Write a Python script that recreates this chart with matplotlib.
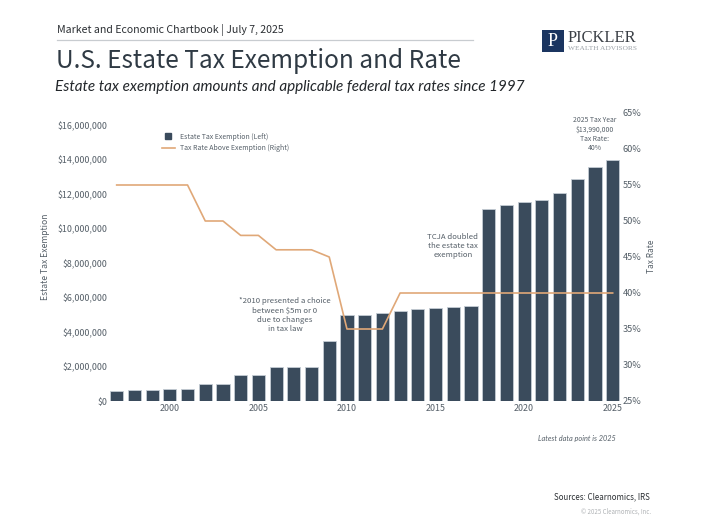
import matplotlib
matplotlib.use("Agg")
import matplotlib.pyplot as plt
from matplotlib.lines import Line2D
from matplotlib.patches import Rectangle
import matplotlib.ticker as mticker

W, H = 706, 529
NAVY = "#3a4b5c"
ORANGE = "#e0a878"
GREY = "#555f68"

years = list(range(1997, 2026))
exemption = [600000, 625000, 650000, 675000, 675000, 1000000, 1000000, 1500000, 1500000,
             2000000, 2000000, 2000000, 3500000, 5000000, 5000000, 5120000, 5250000,
             5340000, 5430000, 5450000, 5490000, 11180000, 11400000, 11580000, 11700000,
             12060000, 12920000, 13610000, 13990000]
tax_rate = [55, 55, 55, 55, 55, 50, 50, 48, 48, 46, 46, 46, 45, 35, 35, 35, 40,
            40, 40, 40, 40, 40, 40, 40, 40, 40, 40, 40, 40]
left_ticks = [0, 2000000, 4000000, 6000000, 8000000, 10000000, 12000000, 14000000, 16000000]
right_ticks = [25, 30, 35, 40, 45, 50, 55, 60, 65]
year_ticks = [2000, 2005, 2010, 2015, 2020, 2025]

# the Latin glyphs of the CJK family are close to the reference's typeface
plt.rcParams["font.family"] = ["Noto Sans CJK SC", "DejaVu Sans"]

fig = plt.figure(figsize=(W / 100, H / 100), dpi=100)


def put(x, y, s, **kw):
    # x, y in picture pixels, y going down
    return fig.text(x / W, 1 - y / H, s, **kw)


ax = fig.add_axes([108 / W, 1 - 401 / H, 513 / W, 288 / H])
ax.bar(years, exemption, width=0.74, color=NAVY, edgecolor="#c4ccd4", linewidth=0.6, zorder=2)
ax.set_xlim(1996.51, 2025.47)
ax.set_ylim(0, 16730000)
ax.set_yticks(left_ticks)
ax.yaxis.set_major_formatter(mticker.FuncFormatter(lambda v, _: f"${v:,.0f}"))
ax.set_xticks(year_ticks)
ax.tick_params(axis="y", length=0, pad=0.5, labelsize=6.4, labelcolor=GREY)
ax.tick_params(axis="x", length=0, pad=2, labelsize=6.4, labelcolor=GREY)
for s in ax.spines.values():
    s.set_visible(False)

ax2 = ax.twinx()
ax2.plot(years, tax_rate, color=ORANGE, linewidth=1.2, zorder=5)
ax2.set_ylim(25, 65)
ax2.set_yticks(right_ticks)
ax2.yaxis.set_major_formatter(mticker.FuncFormatter(lambda v, _: f"{v:.0f}%"))
ax2.tick_params(length=0, pad=1, labelsize=6.6, labelcolor=GREY)
for s in ax2.spines.values():
    s.set_visible(False)

put(46, 257, "Estate Tax Exemption", rotation=90, ha="center", va="center", fontsize=6.2, color=GREY)
put(651, 256, "Tax Rate", rotation=90, ha="center", va="center", fontsize=6, color=GREY)

# legend
handles = [Line2D([], [], marker="s", linestyle="none", color=NAVY, markersize=4.5),
           Line2D([], [], color=ORANGE, linewidth=1.2)]
fig.legend(handles, ["Estate Tax Exemption (Left)", "Tax Rate Above Exemption (Right)"],
           loc="center left", bbox_to_anchor=(161.5 / W, 1 - 142.5 / H), frameon=False,
           fontsize=5.0, labelcolor=GREY, handlelength=2.0, handletextpad=0.6,
           labelspacing=0.55, borderpad=0, borderaxespad=0)

# annotations
put(285, 315, "*2010 presented a choice\nbetween \\$5m or 0\ndue to changes\nin tax law",
    ha="center", va="center", fontsize=5.6, color=GREY, linespacing=1.2)
put(453, 246, "TCJA doubled\nthe estate tax\nexemption",
    ha="center", va="center", fontsize=5.6, color=GREY, linespacing=1.2)
put(595, 134, "2025 Tax Year\n\\$13,990,000\nTax Rate:\n40%",
    ha="center", va="center", fontsize=4.9, color=GREY, linespacing=1.18)
put(538, 438, "Latest data point is 2025", ha="left", va="center", fontsize=5.3,
    style="italic", family=["Lato"], color=GREY)

# header
put(57, 29.5, "Market and Economic Chartbook | July 7, 2025", ha="left", va="center",
    fontsize=7.6, color="#2b2f33")
fig.add_artist(Line2D([57 / W, 473 / W], [1 - 39.5 / H] * 2, color="#c8ccd0", linewidth=0.9))
put(56, 61, "U.S. Estate Tax Exemption and Rate", ha="left", va="center",
    fontsize=17.6, color="#2f3a44")
put(55, 87, "Estate tax exemption amounts and applicable federal tax rates since 1997",
    ha="left", va="center", fontsize=11, style="italic", family=["Lato"], color="#22262a")

# logo
fig.add_artist(Rectangle((542 / W, 1 - 52 / H), 22 / W, 22 / H, transform=fig.transFigure,
                         facecolor="#1b3560", edgecolor="none"))
put(553, 41, "P", ha="center", va="center", fontsize=13, family="Liberation Serif", color="white")
put(568, 37.5, "PICKLER", ha="left", va="center", fontsize=11.9, family="Liberation Serif", color="#3a3f45")
put(568, 48.5, "WEALTH ADVISORS", ha="left", va="center", fontsize=5.3,
    family="Liberation Serif", color="#9aa0a6")

# footer
put(650, 497, "Sources: Clearnomics, IRS", ha="right", va="center", fontsize=5.7, color="#2b2f33")
put(651, 512, "© 2025 Clearnomics, Inc.", ha="right", va="center", fontsize=4.4, color="#b0b3b6")

fig.savefig("out.png", dpi=100)
